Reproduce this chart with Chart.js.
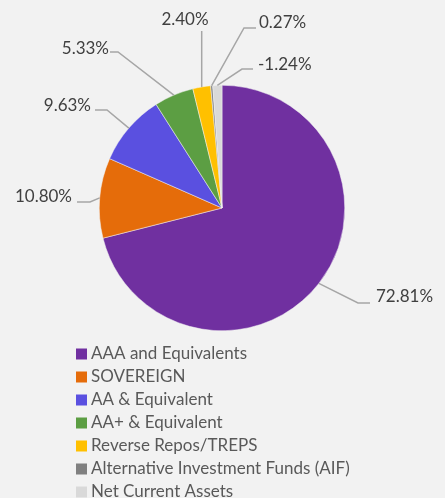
<!DOCTYPE html>
<html>
<head>
<meta charset="utf-8">
<script src="https://cdn.jsdelivr.net/npm/chart.js@4/dist/chart.umd.min.js"></script>
<style>
  html, body { margin: 0; padding: 0; background: #f2f2f2; }
  #wrap { width: 445px; height: 498px; }
</style>
</head>
<body>
<div id="wrap"><canvas id="ratingChart" width="445" height="498"></canvas></div>
<script>
// Données du graphique
const categories = [
    'AAA and Equivalents',
    'SOVEREIGN',
    'AA & Equivalent',
    'AA+ & Equivalent',
    'Reverse Repos/TREPS',
    'Alternative Investment Funds (AIF)',
    'Net Current Assets'
];
const allocation = [72.81, 10.80, 9.63, 5.33, 2.40, 0.27, -1.24];
const valueLabels = ['72.81%', '10.80%', '9.63%', '5.33%', '2.40%', '0.27%', '-1.24%'];

const sliceColors = ['#7030a0', '#e56c0a', '#5a50e0', '#5c9e43', '#ffc000', '#808080', '#d9d9d9'];

// Position des étiquettes (relatif au centre du camembert)
const labelLayout = [
    { elbow: [136, 95],    end: [148, 95],    text: [154, 89],    align: 'left' },
    { elbow: [-132, -6],   end: [-145, -6],   text: [-150, -11],  align: 'right' },
    { elbow: [-115, -98],  end: [-127, -98],  text: [-131, -102], align: 'right' },
    { elbow: [-104, -156], end: [-112, -156], text: [-113, -159], align: 'right' },
    { elbow: null,         end: [-21, -177],  text: [-37, -188],  align: 'center' },
    { elbow: [22, -180],   end: [34, -180],   text: [37, -185],   align: 'left' },
    { elbow: [20, -139],   end: [31, -139],   text: [36, -143],   align: 'left' }
];

const FONT = '17px Lato, "Noto Sans", sans-serif';

const outsideLabels = {
    id: 'outsideLabels',
    afterDatasetsDraw(chart) {
        const ctx = chart.ctx;
        const meta = chart.getDatasetMeta(0);
        ctx.save();
        meta.data.forEach((arc, i) => {
            const p = arc.getProps(['x', 'y', 'startAngle', 'endAngle', 'outerRadius'], true);
            const mid = (p.startAngle + p.endAngle) / 2;
            const ex = p.x + Math.cos(mid) * p.outerRadius;
            const ey = p.y + Math.sin(mid) * p.outerRadius;
            const lay = labelLayout[i];

            ctx.strokeStyle = '#a6a6a6';
            ctx.lineWidth = 1.5;
            ctx.beginPath();
            ctx.moveTo(ex, ey);
            if (lay.elbow) {
                ctx.lineTo(p.x + lay.elbow[0], p.y + lay.elbow[1]);
                ctx.lineTo(p.x + lay.end[0], p.y + lay.end[1]);
            } else {
                ctx.lineTo(ex, p.y + lay.end[1]);
            }
            ctx.stroke();

            ctx.fillStyle = '#404040';
            ctx.font = FONT;
            ctx.textAlign = lay.align;
            ctx.textBaseline = 'middle';
            ctx.fillText(valueLabels[i], p.x + lay.text[0], p.y + lay.text[1]);
        });
        ctx.restore();
    }
};

const listLegend = {
    id: 'listLegend',
    afterDraw(chart) {
        const ctx = chart.ctx;
        ctx.save();
        ctx.font = FONT;
        ctx.textAlign = 'left';
        ctx.textBaseline = 'middle';
        categories.forEach((name, i) => {
            const cy = 354 + i * 23;
            ctx.fillStyle = sliceColors[i];
            ctx.fillRect(76, cy - 5.5, 11, 11);
            ctx.fillStyle = '#595959';
            ctx.fillText(name, 91, cy);
        });
        ctx.restore();
    }
};

new Chart(document.getElementById('ratingChart'), {
    type: 'pie',
    data: {
        labels: categories,
        datasets: [{
            data: allocation,
            backgroundColor: sliceColors,
            borderColor: '#f2f2f2',
            borderWidth: 0.5
        }]
    },
    options: {
        responsive: false,
        animation: false,
        layout: {
            padding: { left: 99, right: 100, top: 85, bottom: 167 }
        },
        plugins: {
            legend: { display: false },
            tooltip: { enabled: false }
        }
    },
    plugins: [outsideLabels, listLegend]
});
</script>
</body>
</html>
